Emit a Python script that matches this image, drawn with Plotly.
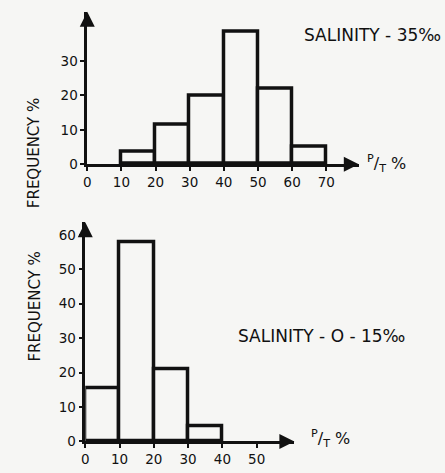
import plotly.graph_objects as go

# Top panel: salinity 35 ‰
top_bins = [10, 20, 30, 40, 50, 60]
top_freq = [3.5, 11.5, 20, 38.5, 22, 5]
top_xticks = [0, 10, 20, 30, 40, 50, 60, 70]
top_yticks = [0, 10, 20, 30]

# Bottom panel: salinity 0-15 ‰
bot_bins = [0, 10, 20, 30]
bot_freq = [15.5, 58, 21, 4.5]
bot_xticks = [0, 10, 20, 30, 40, 50]
bot_yticks = [0, 10, 20, 30, 40, 50, 60]

BIN_W = 10
INK = "#111111"
BG = "#f6f6f4"
FONT = "DejaVu Sans"

fig = go.Figure()
fig.add_trace(go.Bar(x=top_bins, y=top_freq, width=BIN_W, offset=0,
                     marker=dict(color=BG, line=dict(color=INK, width=3.5)),
                     xaxis="x", yaxis="y", showlegend=False))
fig.add_trace(go.Bar(x=bot_bins, y=bot_freq, width=BIN_W, offset=0,
                     marker=dict(color=BG, line=dict(color=INK, width=3.5)),
                     xaxis="x2", yaxis="y2", showlegend=False))

top_xr = [0, 79.5]
top_yr = [0, 44.3]
bot_xr = [0, 61]
bot_yr = [0, 63.7]

ax_common = dict(showline=True, linecolor=INK, linewidth=2.5, showgrid=False,
                 zeroline=False, ticks="outside", ticklen=4, tickwidth=2,
                 tickcolor=INK, tickfont=dict(family=FONT, size=13.5, color=INK))

fig.update_layout(
    width=445, height=473,
    margin=dict(l=0, r=0, t=0, b=0),
    paper_bgcolor=BG, plot_bgcolor=BG,
    bargap=0,
    xaxis=dict(domain=[84/445, 358/445], range=top_xr, tickvals=top_xticks,
               anchor="y", **ax_common),
    yaxis=dict(domain=[1-167/473, 1-12/473], range=top_yr, tickvals=top_yticks,
               anchor="x", **ax_common),
    xaxis2=dict(domain=[82/445, 293/445], range=bot_xr, tickvals=bot_xticks,
                anchor="y2", **ax_common),
    yaxis2=dict(domain=[1-449/473, 1-226/473], range=bot_yr, tickvals=bot_yticks,
                anchor="x2", **ax_common),
)

ann = []
# axis arrows
for xa, ya, xr, yr in [("x", "y", top_xr, top_yr), ("x2", "y2", bot_xr, bot_yr)]:
    ann.append(dict(x=xr[1], y=0, ax=xr[1] - 4, ay=0, xref=xa, yref=ya,
                    axref=xa, ayref=ya, showarrow=True, arrowhead=2,
                    arrowsize=1.2, arrowwidth=2.5, arrowcolor=INK, text=""))
    ann.append(dict(x=0, y=yr[1], ax=0, ay=yr[1] - 4, xref=xa, yref=ya,
                    axref=xa, ayref=ya, showarrow=True, arrowhead=2,
                    arrowsize=1.2, arrowwidth=2.5, arrowcolor=INK, text=""))

txt = dict(family=FONT, color=INK)
ann += [
    dict(text="SALINITY - 35‰", x=443/445, y=1-36/473, xref="paper", yref="paper",
         xanchor="right", yanchor="middle", showarrow=False, font=dict(size=17, **txt)),
    dict(text="SALINITY - O - 15‰", x=234/445, y=1-342/473, xref="paper", yref="paper",
         xanchor="left", yanchor="middle", showarrow=False, font=dict(size=17, **txt)),
    dict(text="FREQUENCY %", x=20/445, y=1-98/473, xref="paper", yref="paper",
         textangle=-90, showarrow=False, font=dict(size=15, **txt)),
    dict(text="FREQUENCY %", x=20/445, y=1-370/473, xref="paper", yref="paper",
         textangle=-90, showarrow=False, font=dict(size=15, **txt)),
    dict(text="<sup>P</sup>/<sub>T</sub> %", x=364/445, y=1-166/473, xref="paper",
         yref="paper", xanchor="left", yanchor="middle", showarrow=False,
         font=dict(size=16, **txt)),
    dict(text="<sup>P</sup>/<sub>T</sub> %", x=308/445, y=1-446/473, xref="paper",
         yref="paper", xanchor="left", yanchor="middle", showarrow=False,
         font=dict(size=16, **txt)),
]
fig.update_layout(annotations=ann)

fig.write_html("out.html",
               config={"displayModeBar": False},
               post_script="document.body.style.margin='0';"
                           "document.body.style.background='#f6f6f4';")
